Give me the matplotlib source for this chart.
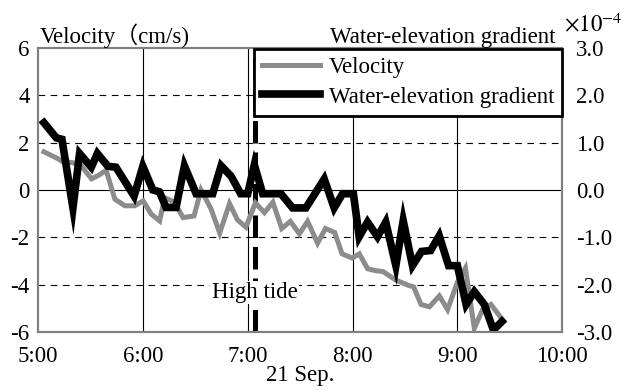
import numpy as np
import matplotlib
matplotlib.use("Agg")
import matplotlib.pyplot as plt

plt.rcParams['font.family'] = ['Liberation Serif', 'Noto Sans CJK JP', 'DejaVu Sans']
plt.rcParams['mathtext.fontset'] = 'stix'

# minutes after 5:00 and velocity (cm/s)
vel_min = [3.4, 11.4, 14, 20, 25, 30.6, 34.5, 39, 44, 49.7, 55.4, 60.2, 64.8, 69.6,
           72.5, 78, 83, 89.3, 93.3, 99, 104, 109.6, 114.2, 119, 124.4, 129.6, 134.4,
           139.5, 144.4, 149.6, 154.3, 160, 164.5, 169.8, 174, 179.8, 183.9, 188.6,
           193, 197.5, 204.5, 211.5, 215, 219.2, 224, 229.7, 234.4, 240, 244.6,
           249.7, 254.4, 259.2, 265.9]
velocity = [1.61, 1.32, 1.2, 1.15, 1.0, 0.47, 0.61, 0.83, -0.39, -0.67, -0.67, -0.46,
            -1.02, -1.31, -0.33, -0.51, -1.17, -1.1, 0.0, -0.8, -1.82, -0.58, -1.27,
            -1.57, -0.55, -0.96, -0.52, -1.63, -1.33, -1.85, -1.33, -2.25, -1.63, -1.8,
            -2.7, -2.88, -2.7, -3.33, -3.41, -3.45, -3.8, -4.02, -4.1, -4.84, -4.94,
            -4.48, -5.06, -3.9, -3.3, -5.85, -5.06, -4.84, -5.49]

# minutes after 5:00 and water-elevation gradient (x 1e-4)
grad_min = [3.4, 10.5, 13.7, 20, 23.8, 30.5, 34, 40, 44.6, 55, 60, 65.7, 69.5, 73.3,
            79, 83.8, 90.5, 100, 104.8, 110.5, 116, 120, 123.8, 128.6, 139, 145.7,
            153.3, 163.8, 169.5, 174.3, 180.5, 183.8, 188.6, 194.3, 199, 204.8, 209,
            214.3, 219.5, 224.7, 229.6, 235, 240, 245, 249.7, 255.4, 260.6, 265.5]
gradient = [1.42, 1.1, 1.07, -0.38, 0.77, 0.48, 0.77, 0.5, 0.48, -0.13, 0.5, 0.0,
            -0.04, -0.37, -0.37, 0.51, -0.08, -0.08, 0.51, 0.29, -0.08, -0.08, 0.53,
            -0.08, -0.08, -0.38, -0.38, 0.23, -0.38, -0.08, -0.08, -0.99, -0.68, -0.99,
            -0.68, -1.6, -0.65, -1.6, -1.3, -1.28, -0.97, -1.6, -1.6, -2.42, -2.15,
            -2.42, -2.96, -2.78]

high_tide_min = 124
hours = [5, 6, 7, 8, 9, 10]
hour_labels = ["5:00", "6:00", "7:00", "8:00", "9:00", "10:00"]
vel_ticks = [6, 4, 2, 0, -2, -4, -6]
grad_ticks = [3, 2, 1, 0, -1, -2, -3]

fs = 16.5
fig = plt.figure(figsize=(6.44, 3.90), dpi=100)
ax = fig.add_axes([0.059, 0.149, 0.814, 0.728])
ax2 = ax.twinx()

for h in hours[1:-1]:
    ax.axvline(h, color='black', lw=0.8, zorder=0)
for v in vel_ticks[1:-1]:
    if v == 0:
        ax.axhline(v, color='black', lw=0.8, zorder=0)
    else:
        ax.axhline(v, color='black', lw=0.8, ls=(0, (6, 5)), zorder=0)

tv = 5 + np.array(vel_min) / 60
tg = 5 + np.array(grad_min) / 60
ax2.plot(tv, np.array(velocity) / 2, color='#8c8c8c', lw=3.6, label='Velocity',
         solid_joinstyle='miter')
ax2.plot(tg, gradient, color='black', lw=5.5, label='Water-elevation gradient',
         solid_joinstyle='miter')

ht = 5 + high_tide_min / 60
ax2.plot([ht, ht], [-3, 3], color='black', lw=3.6, ls=(0, (4.5, 1.8)), zorder=1)
ax2.text(ht, -2.17, "High tide", ha='center', va='center', fontsize=fs,
         bbox=dict(facecolor='white', edgecolor='none', pad=1), zorder=5)

ax.set_xlim(5, 10)
ax.set_ylim(-6, 6)
ax2.set_ylim(-3, 3)
ax.set_xticks(hours)
ax.set_xticklabels(hour_labels, fontsize=fs)
ax.set_yticks(vel_ticks)
ax.set_yticklabels([str(v) for v in vel_ticks], fontsize=fs)
ax2.set_yticks(grad_ticks)
ax2.set_yticklabels(["%.1f" % v for v in grad_ticks], fontsize=fs)
ax.tick_params(axis='y', length=0, pad=6)
ax.tick_params(axis='x', length=0, pad=10)
ax2.tick_params(length=0, pad=10)

for a in (ax, ax2):
    for s in a.spines.values():
        s.set_color('#808080')
        s.set_linewidth(1.5)

ax.text(0.5, -0.155, "21 Sep.", fontsize=fs, ha='center', va='center',
        transform=ax.transAxes)

leg = ax2.legend(loc='upper right', bbox_to_anchor=(1.0, 0.995), borderaxespad=0,
                 fontsize=fs, fancybox=False, framealpha=1, handlelength=2.5,
                 borderpad=0.35, labelspacing=0.35, handletextpad=0.4)
leg.get_frame().set_edgecolor('black')
leg.get_frame().set_linewidth(2)
leg.set_zorder(10)

fig.text(0.062, 0.89, "Velocity（cm/s)", fontsize=fs, ha='left', va='baseline')
fig.text(0.862, 0.89, "Water-elevation gradient", fontsize=fs, ha='right', va='baseline')
fig.text(0.876, 0.92, r"$\times10^{-4}$", fontsize=fs, ha='left', va='baseline')

fig.savefig("out.png", dpi=100)
